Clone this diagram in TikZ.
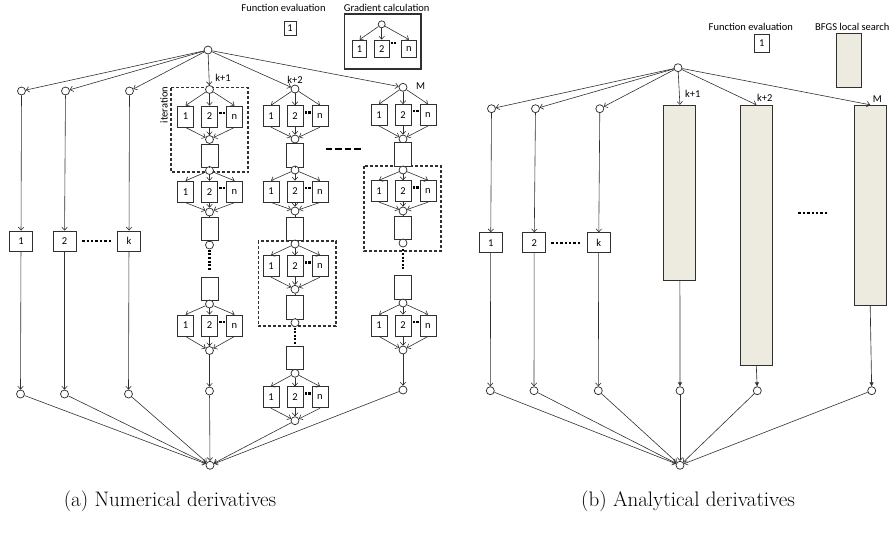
\documentclass[tikz,border=0pt]{standalone}
\usepackage{fontspec}
\newfontfamily\labfont{Carlito}
\usetikzlibrary{arrows.meta,calc}
\definecolor{ln}{HTML}{303030}
\definecolor{bfgs}{HTML}{EDEAE0}
\tikzset{
  cir/.style={circle, draw=ln, fill=white, line width=0.75pt, inner sep=0pt, minimum size=8pt},
  fbox/.style={rectangle, draw=ln, fill=white, line width=0.85pt, inner sep=0pt,
    minimum width=16pt, minimum height=21pt, font=\labfont\fontsize{10.5}{12}\selectfont},
  kbox/.style={fbox, minimum width=23pt, minimum height=20pt},
  lsbox/.style={rectangle, draw=ln, fill=white, line width=0.85pt, inner sep=0pt,
    minimum width=17pt, minimum height=23.5pt},
  bfgsbox/.style={rectangle, draw=ln, fill=bfgs, line width=1pt, inner sep=0pt, minimum width=32pt},
  arr/.style={draw=ln, line width=0.6pt, -{Straight Barb[length=3pt,width=5.5pt]}},
  farr/.style={draw=ln, line width=0.65pt, -{Triangle[length=4pt,width=4pt]}},
  link/.style={draw=ln, line width=0.65pt},
  iterbox/.style={draw=ln, dash pattern=on 3pt off 2pt, line width=1.1pt},
  vdots/.style={draw=black, line width=2.4pt, dash pattern=on 2pt off 1.6pt},
  hdots/.style={draw=black, line width=2pt, dash pattern=on 2.4pt off 2pt},
  hdash/.style={draw=black, line width=2pt, dash pattern=on 6.5pt off 3pt},
  lab/.style={font=\labfont\fontsize{10.5}{12}\selectfont, inner sep=0pt},
  captxt/.style={font=\fontsize{21}{25}\selectfont, inner sep=0pt},
}
% one gradient calculation: #1 circle above, #2 prefix, #3 x, #4 y of boxes, #5 y of joining circle
\newcommand{\gradgrp}[5]{%
  \node[fbox] (#2a) at (#3-24,#4) {1};
  \node[fbox] (#2b) at (#3,#4) {2};
  \node[fbox] (#2n) at (#3+25,#4) {n};
  \node[cir] (#2j) at (#3,#5) {};
  \draw[arr] (#1) -- (#2a.north);
  \draw[arr] (#1) -- (#2b.north);
  \draw[arr] (#1) -- (#2n.north);
  \draw[arr] (#2a.south) -- (#2j);
  \draw[arr] (#2b.south) -- (#2j);
  \draw[arr] (#2n.south) -- (#2j);
  \fill[black] ($(#2b.north east)+(1.3,6)$) rectangle ++(2.3,2.3);
  \fill[black] ($(#2b.north east)+(5,6)$) rectangle ++(2.3,2.3);
}
\begin{document}
\begin{tikzpicture}[x=1pt,y=-1pt]
\useasboundingbox (0,0) rectangle (893,547);

% ---------------- (a) numerical derivatives ----------------
% iteration frames
\draw[iterbox] (171,87.5) rectangle (248,172);
\draw[iterbox] (258.3,241) rectangle (336,326);
\draw[iterbox] (364,166) rectangle (441,251);
\node[lab, rotate=90] at (164,105) {iteration};

% legend
\node[lab] at (283.5,8) {Function evaluation};
\node[fbox, minimum width=12pt, minimum height=13.5pt] (Lf) at (290,28.3) {1};
\node[lab] at (386.7,8) {Gradient calculation};
\draw[draw=ln, line width=1.1pt] (344.3,14) rectangle (421,69);
\node[cir, minimum size=7pt] (Lg) at (381.7,24.3) {};
\node[fbox, minimum width=14.5pt, minimum height=17.3pt] (Lga) at (359.5,48.7) {1};
\node[fbox, minimum width=14.5pt, minimum height=17.3pt] (Lgb) at (381.7,48.7) {2};
\node[fbox, minimum width=14.5pt, minimum height=17.3pt] (Lgn) at (409,48.7) {n};
\draw[arr] (Lg) -- (Lga.north);
\draw[arr] (Lg) -- (Lgb.north);
\draw[arr] (Lg) -- (Lgn.north);
\fill[black] ($(Lgb.north east)+(1.3,2.5)$) rectangle ++(2.2,2.2);
\fill[black] ($(Lgb.north east)+(4.8,2.5)$) rectangle ++(2.2,2.2);

% root and final circles
\node[cir] (A0) at (208,50) {};
\node[cir] (Aend) at (210,465.3) {};

% plain function evaluations 1 .. k
\node[cir] (Ap1) at (21.5,91) {};
\node[cir] (Ap2) at (65.5,91) {};
\node[cir] (Ap3) at (129.5,91) {};
\node[kbox] (Af1) at (21,241) {1};
\node[kbox] (Af2) at (64.5,241) {2};
\node[kbox] (Afk) at (129,241) {k};
\node[cir] (Aq1) at (20.5,394) {};
\node[cir] (Aq2) at (64.5,394) {};
\node[cir] (Aq3) at (128.5,394) {};
\draw[hdots, shorten <=5.7pt, shorten >=5.5pt] (Af2) -- (Afk);

% column k+1
\node[cir] (B1) at (209.5,89.5) {};
\gradgrp{B1}{Bg1}{209.5}{116.5}{139.5}
\node[lsbox] (Bl1) at (209.5,155.7) {};
\node[cir] (B2) at (209.5,170.5) {};
\gradgrp{B2}{Bg2}{209.5}{191.7}{212}
\node[lsbox] (Bl2) at (209.5,228.7) {};
\node[cir] (B3) at (209.5,245) {};
\node[lsbox] (Bl3) at (209.5,288.7) {};
\node[cir] (B4) at (209.5,304) {};
\gradgrp{B4}{Bg3}{209.5}{325.5}{350.5}
\node[cir] (B5) at (209.5,391) {};

% column k+2
\node[cir] (C1) at (295,89) {};
\gradgrp{C1}{Cg1}{295}{116.2}{139}
\node[lsbox] (Cl1) at (295,155.5) {};
\node[cir] (C2) at (295,170) {};
\gradgrp{C2}{Cg2}{295}{191.5}{211}
\node[lsbox] (Cl2) at (295,228.7) {};
\node[cir] (C3) at (295,244) {};
\gradgrp{C3}{Cg3}{295}{266.2}{289.3}
\node[lsbox] (Cl3) at (295,307.2) {};
\node[cir] (C4) at (295,322.7) {};
\node[lsbox] (Cl4) at (295,358) {};
\node[cir] (C5) at (295,373.3) {};
\gradgrp{C5}{Cg4}{295}{397.3}{420.7}

% column M
\node[cir] (D1) at (403,87.3) {};
\gradgrp{D1}{Dg1}{403}{115}{139}
\node[lsbox] (Dl1) at (403,154.2) {};
\node[cir] (D2) at (403,170) {};
\gradgrp{D2}{Dg2}{403}{191.2}{211}
\node[lsbox] (Dl2) at (403,228) {};
\node[cir] (D3) at (403,243) {};
\node[lsbox] (Dl3) at (403,287.5) {};
\node[cir] (D4) at (403,303) {};
\gradgrp{D4}{Dg3}{403}{325.5}{350}
\node[cir] (D5) at (403,390) {};

\draw[hdash] (325.7,149.3) -- (361.7,149.3);

% connectors
\foreach \t in {Ap1,Ap2,Ap3,B1,C1,D1} \draw[arr] (A0) -- (\t);
\draw[arr] (Ap1) -- (Af1); \draw[arr] (Ap2) -- (Af2); \draw[arr] (Ap3) -- (Afk);
\draw[arr] (Af1) -- (Aq1); \draw[arr] (Af2) -- (Aq2); \draw[arr] (Afk) -- (Aq3);
\foreach \s in {Aq1,Aq2,Aq3,B5,Cg4j,D5} \draw[arr] (\s) -- (Aend);
\draw[link] (Bg1j) -- (Bl1); \draw[link] (Bl1) -- (B2);
\draw[link] (Bg2j) -- (Bl2); \draw[link] (Bl2) -- (B3);
\draw[vdots, shorten <=0.5pt, shorten >=6.5pt] (B3) -- (Bl3);
\draw[link] (Bl3) -- (B4);
\draw[arr] (Bg3j) -- (B5);
\draw[link] (Cg1j) -- (Cl1); \draw[link] (Cl1) -- (C2);
\draw[link] (Cg2j) -- (Cl2); \draw[link] (Cl2) -- (C3);
\draw[link] (Cg3j) -- (Cl3); \draw[link] (Cl3) -- (C4);
\draw[vdots, shorten <=0.5pt, shorten >=1pt] (C4) -- (Cl4);
\draw[link] (Cl4) -- (C5);
\draw[link] (Dg1j) -- (Dl1); \draw[link] (Dl1) -- (D2);
\draw[link] (Dg2j) -- (Dl2); \draw[link] (Dl2) -- (D3);
\draw[vdots, shorten <=2pt, shorten >=5.5pt] (D3) -- (Dl3);
\draw[link] (Dl3) -- (D4);
\draw[arr] (Dg3j) -- (D5);

\node[lab] at (223,77.5) {k+1};
\node[lab] at (295,80) {k+2};
\node[lab] at (420.7,86) {M};

% ---------------- (b) analytical derivatives ----------------
\node[lab] at (750.8,26.7) {Function evaluation};
\node[fbox, minimum width=15.3pt, minimum height=18.7pt] (Rlf) at (761.7,43.3) {1};
\node[lab] at (852.3,26.7) {BFGS local search};
\node[bfgsbox, minimum width=25pt, minimum height=54pt] (Rlb) at (848.5,60.3) {};

\node[cir] (R0) at (678,67.7) {};
\node[cir] (Rend) at (680,465.3) {};
\node[cir] (Rp1) at (491.5,108.7) {};
\node[cir] (Rp2) at (535.5,108.7) {};
\node[cir] (Rp3) at (599.8,108.7) {};
\node[kbox] (Rf1) at (490.7,242.7) {1};
\node[kbox] (Rf2) at (534.2,242.7) {2};
\node[kbox] (Rfk) at (598.7,242.7) {k};
\node[cir] (Rq1) at (490.3,390.7) {};
\node[cir] (Rq2) at (534,390.7) {};
\node[cir] (Rq3) at (598.3,390.7) {};
\draw[hdots, shorten <=5.3pt, shorten >=5pt] (Rf2) -- (Rfk);

\node[bfgsbox, minimum height=175pt] (Rb1) at (679.9,192.8) {};
\node[bfgsbox, minimum height=260.4pt] (Rb2) at (756.3,235.5) {};
\node[bfgsbox, minimum height=200.4pt] (Rb3) at (870.2,205.5) {};
\node[cir] (Rq4) at (680,390.7) {};
\node[cir] (Rq5) at (757.3,390.7) {};
\node[cir] (Rq6) at (871.7,390.7) {};
\draw[hdots] (798.3,212.7) -- (829,212.7);

\foreach \t in {Rp1,Rp2,Rp3} \draw[arr] (R0) -- (\t);
\draw[arr] (R0) -- (Rb1.north);
\draw[arr] (R0) -- (Rb2.north);
\draw[arr] (R0) -- (Rb3.north);
\draw[arr] (Rp1) -- (Rf1); \draw[arr] (Rp2) -- (Rf2); \draw[arr] (Rp3) -- (Rfk);
\draw[arr] (Rf1) -- (Rq1); \draw[arr] (Rf2) -- (Rq2); \draw[arr] (Rfk) -- (Rq3);
\draw[farr] (Rb1.south) -- (Rq4);
\draw[farr] (Rb2.south) -- (Rq5);
\draw[farr] (Rb3.south) -- (Rq6);
\foreach \s in {Rq1,Rq2,Rq3,Rq4,Rq5,Rq6} \draw[arr] (\s) -- (Rend);

\node[lab] at (692.7,94.3) {k+1};
\node[lab] at (764.7,98) {k+2};
\node[lab] at (877.3,99.3) {M};

% captions
\node[captxt] at (170,501) {(a) Numerical derivatives};
\node[captxt] at (688,501) {(b) Analytical derivatives};
\end{tikzpicture}
\end{document}
